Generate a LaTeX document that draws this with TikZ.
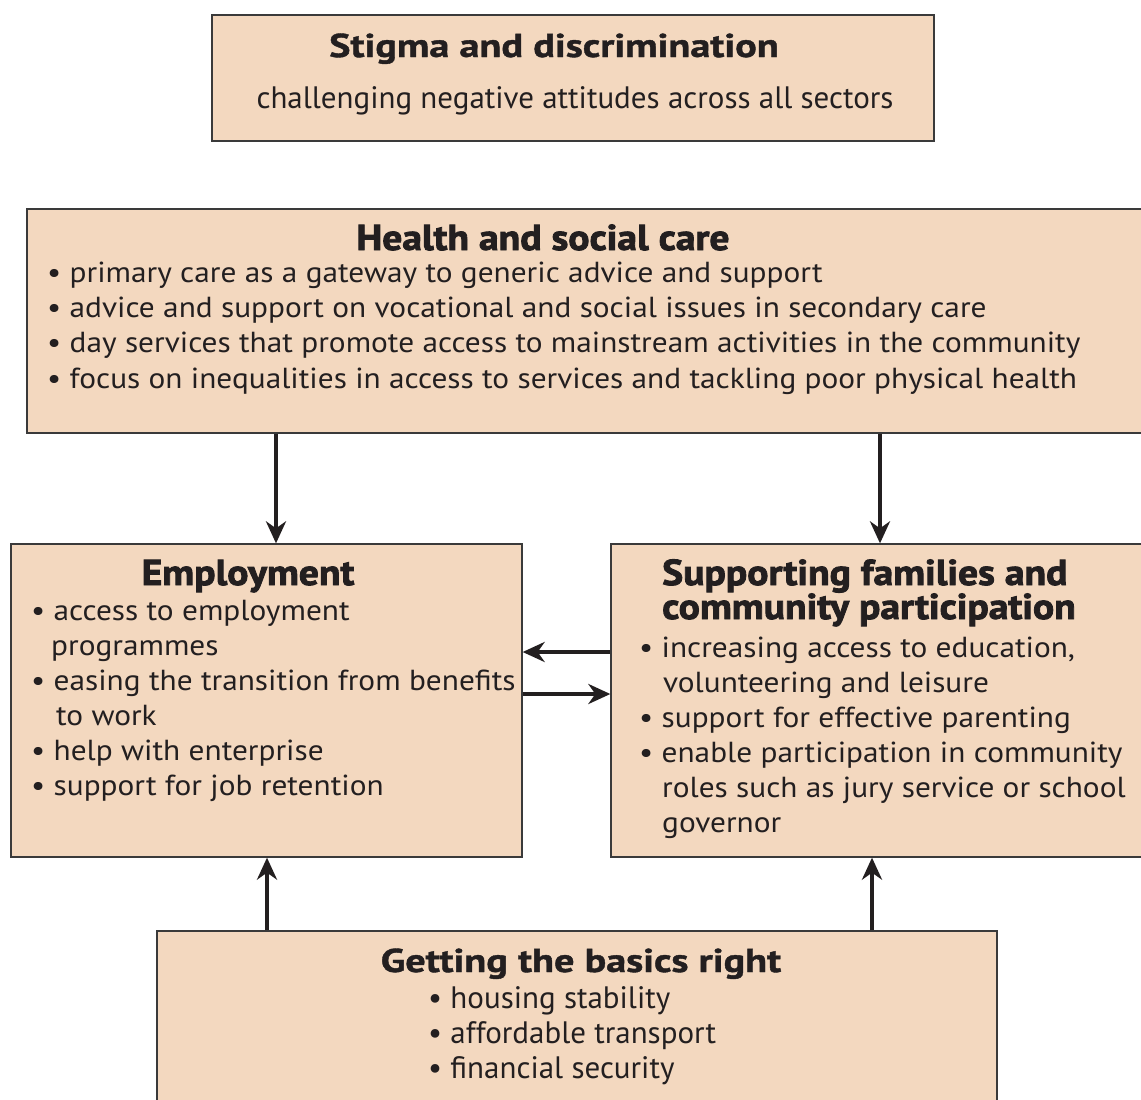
\documentclass[tikz,border=0pt]{standalone}
\usepackage{fontspec}
\setmainfont[FakeStretch=1.08]{PT Sans}
\newfontfamily\condfont[FakeStretch=1.0]{PT Sans}
\newfontfamily\condbold[FakeStretch=1.22,FakeBold=1.2]{PT Sans Bold}
\newfontfamily\heavyfont[FakeStretch=1.1,FakeBold=2.4]{PT Sans Bold}
\usetikzlibrary{arrows.meta}
\definecolor{boxfill}{HTML}{F3D8BF}
\definecolor{boxline}{HTML}{3A3A3A}
\definecolor{ink}{HTML}{231F20}
\tikzset{
  box/.style={draw=boxline, line width=1.3pt, fill=boxfill, inner sep=0pt},
  ttl/.style={anchor=base, inner sep=0pt, text=ink, font=\heavyfont\fontsize{36}{35}\selectfont},
  ctl/.style={anchor=base, inner sep=0pt, text=ink, font=\condbold\fontsize{33}{35}\selectfont},
  txt/.style={anchor=base west, inner sep=0pt, text=ink, font=\fontsize{29}{35}\selectfont},
  ctx/.style={anchor=base west, inner sep=0pt, text=ink, font=\condfont\fontsize{31}{35}\selectfont},
  arr/.style={draw=ink, line width=4pt, -{Stealth[length=22pt,width=20pt,inset=7pt]}}
}
\begin{document}
\begin{tikzpicture}[x=1pt,y=-1pt]
\useasboundingbox (0,0) rectangle (1141,1100);
% boxes
\node[box, minimum width=722pt, minimum height=126pt] (stig) at (573,78) {};
\node[box, minimum width=1130pt, minimum height=224pt] (health) at (592,321) {};
\node[box, minimum width=511pt, minimum height=313pt] (emp) at (266.5,700.5) {};
\node[box, minimum width=545pt, minimum height=313pt] (fam) at (883.5,700.5) {};
\node[box, minimum width=840pt, minimum height=200pt] (basic) at (577,1031) {};
% stigma
\node[ctl] (stigT) at (554,57) {Stigma and discrimination};
\node[ctx, anchor=base] (stig1) at (575,108) {challenging negative attitudes across all sectors};
% health
\node[ttl] (healthT) at (543,250) {Health and social care};
\node[txt] (h1) at (47,282) {\textbullet\ primary care as a gateway to generic advice and support};
\node[txt] (h2) at (47,317) {\textbullet\ advice and support on vocational and social issues in secondary care};
\node[txt] (h3) at (47,352) {\textbullet\ day services that promote access to mainstream activities in the community};
\node[txt] (h4) at (47,388) {\textbullet\ focus on inequalities in access to services and tackling poor physical health};
% employment
\node[ttl] (empT) at (248,585) {Employment};
\node[txt] (e1) at (31,620) {\textbullet\ access to employment};
\node[txt] (e2) at (51,655) {programmes};
\node[txt] (e3) at (31,690) {\textbullet\ easing the transition from benefits};
\node[txt] (e4) at (56,725) {to work};
\node[txt] (e5) at (31,760) {\textbullet\ help with enterprise};
\node[txt] (e6) at (31,795) {\textbullet\ support for job retention};
% families
\node[ttl, anchor=base west] (famT1) at (662,585) {Supporting families and};
\node[ttl, anchor=base west] (famT2) at (662,619) {community participation};
\node[txt] (f1) at (639,657) {\textbullet\ increasing access to education,};
\node[txt] (f2) at (663,692) {volunteering and leisure};
\node[txt] (f3) at (639,727) {\textbullet\ support for effective parenting};
\node[txt] (f4) at (639,762) {\textbullet\ enable participation in community};
\node[txt] (f5) at (662,797) {roles such as jury service or school};
\node[txt] (f6) at (662,832) {governor};
% basics
\node[ctl] (basicT) at (581,972) {Getting the basics right};
\node[ctx] (b1) at (428,1008) {\textbullet\ housing stability};
\node[ctx] (b2) at (428,1043) {\textbullet\ affordable transport};
\node[ctx] (b3) at (428,1078) {\textbullet\ financial security};
% connector columns/rows
\coordinate (cL) at (276,0);
\coordinate (cR) at (880,0);
\coordinate (bL) at (267,0);
\coordinate (bR) at (872,0);
\coordinate (rA) at (0,652);
\coordinate (rB) at (0,694);
\draw[arr] (health.south -| cL) -- (emp.north -| cL);
\draw[arr] (health.south -| cR) -- (fam.north -| cR);
\draw[arr] (fam.west |- rA) -- (emp.east |- rA);
\draw[arr] (emp.east |- rB) -- (fam.west |- rB);
\draw[arr] (basic.north -| bL) -- (emp.south -| bL);
\draw[arr] (basic.north -| bR) -- (fam.south -| bR);
\end{tikzpicture}
\end{document}
